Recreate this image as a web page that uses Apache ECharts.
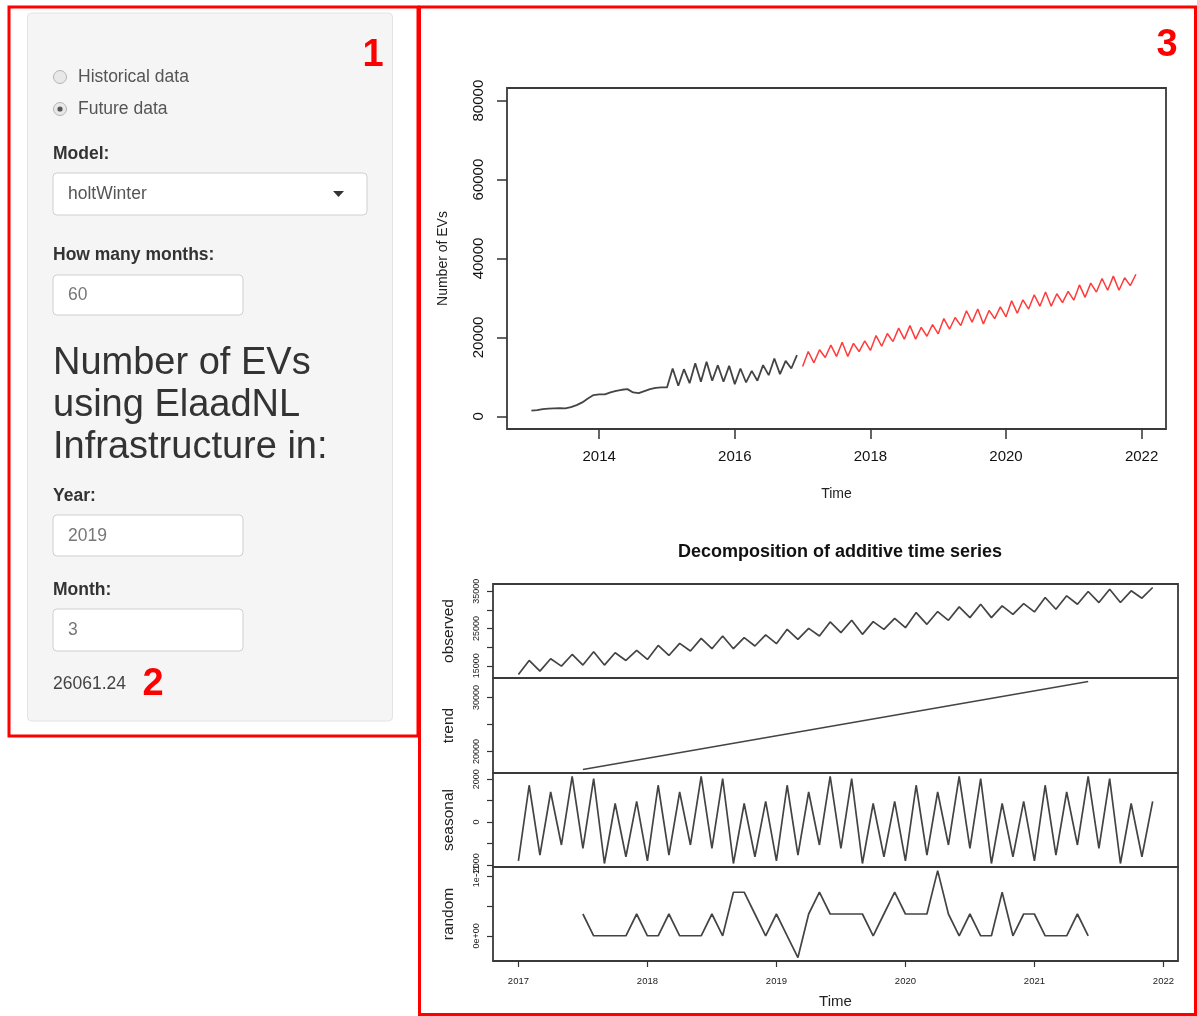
<!DOCTYPE html>
<html><head><meta charset="utf-8">
<script src="https://cdn.jsdelivr.net/npm/echarts@6/dist/echarts.min.js"></script>
<style>html,body{margin:0;padding:0;background:#fff}#c{width:1197px;height:1016px}</style>
</head><body><div id="c"></div>
<script>
const FONT = '"Liberation Sans", Arial, Helvetica, sans-serif';

// ---------- data ----------
const histStart = 2013;
const histValues = [1430,1600,1850,1940,2020,2100,2020,2360,2860,3540,4550,5390,
  5560,5560,6060,6480,6740,6900,6060,5900,6400,6900,7240,7330,
  7330,12130,7750,11960,8420,13470,8760,13810,9010,12970,8760,12800,
  8170,12130,8590,11540,9010,12970,10440,14650,10700,14060,12130,15500];

const forecastStart = 2017;
const forecastValues = [12660,16430,13570,16880,14920,18040,15190,18770,15190,18500,16430,19120,
  16700,20470,17770,21010,18950,22350,19580,23000,19580,22540,20300,23270,
  20920,24770,22080,25040,23000,26760,23880,27200,23430,26840,24780,27740,
  25230,29270,26120,29540,27200,30800,27920,31500,27920,31070,28810,31690,
  29450,33310,30160,33760,31500,34920,31960,35540,31960,35110,33120,36000];

const trendTimes = [2017.5, 2021.417];
const trendValues = [16690, 32940];

const seasonalValues = [-1811,1717,-1543,1402,-1071,2126,-1228,2031,-1937,866,-1622,961,
  -1811,1717,-1543,1402,-1071,2126,-1228,2031,-1937,866,-1622,961,
  -1811,1717,-1543,1402,-1071,2126,-1228,2031,-1937,866,-1622,961,
  -1811,1717,-1543,1402,-1071,2126,-1228,2031,-1937,866,-1622,961,
  -1811,1717,-1543,1402,-1071,2126,-1228,2031,-1937,866,-1622,961];

const randomStart = 2017.5;
const randomValues = [3.64e-12,0,0,0,0,3.64e-12,0,0,3.64e-12,0,0,0,
  3.64e-12,0,7.28e-12,7.28e-12,3.64e-12,0,3.64e-12,0,-3.64e-12,3.64e-12,7.28e-12,3.64e-12,
  3.64e-12,3.64e-12,3.64e-12,0,3.64e-12,7.28e-12,3.64e-12,3.64e-12,3.64e-12,1.09e-11,3.64e-12,0,
  3.64e-12,0,0,7.28e-12,0,3.64e-12,3.64e-12,0,0,0,3.64e-12,0];

const topXTicks = [2014, 2016, 2018, 2020, 2022];
const topYTicks = [0, 20000, 40000, 60000, 80000];
const decompXTicks = [2017, 2018, 2019, 2020, 2021, 2022];
const obsTicks = [15000, 20000, 25000, 30000, 35000];
const obsLabels = [15000, 25000, 35000];
const trendTicks = [20000, 25000, 30000];
const trendLabels = [20000, 30000];
const seasTicks = [-2000, -1000, 0, 1000, 2000];
const seasLabels = [-2000, 0, 2000];
const randTicks = [0, 5e-12, 1e-11];
const randLabels = [0, 1e-11];
const randLabelText = ['0e+00', '1e-11'];

// ---------- helpers ----------
const monthly = (start, vals) => vals.map((v, i) => [start + i / 12, v]);
const pairs = (xs, ys) => xs.map((x, i) => [x, ys[i]]);
const plain = v => String(Math.round(v));

const chart = echarts.init(document.getElementById('c'), null, {renderer: 'canvas'});

const gridStyle = {show: true, borderColor: '#3a3a3a', borderWidth: 1.8, backgroundColor: 'transparent'};
const dGrids = [
  {left: 493, top: 584, width: 685, height: 94},
  {left: 493, top: 678, width: 685, height: 95},
  {left: 493, top: 773, width: 685, height: 94},
  {left: 493, top: 867, width: 685, height: 94}
].map(g => Object.assign({}, gridStyle, g));

function decompX(idx, last) {
  return {
    gridIndex: idx, type: 'value', min: 2016.803, max: 2022.113,
    axisLine: {show: false, onZero: false}, splitLine: {show: false},
    axisTick: {show: last, length: 6, customValues: decompXTicks, lineStyle: {color: '#333', width: 1.2}},
    axisLabel: {show: last, customValues: decompXTicks, margin: 15, fontSize: 9.5, color: '#222', fontFamily: FONT,
      formatter: plain},
    name: last ? 'Time' : '', nameLocation: 'middle', nameGap: 33,
    nameTextStyle: {fontSize: 15, color: '#222', fontFamily: FONT}
  };
}
function decompY(idx, name, min, max, ticks, labels, fmt) {
  return {
    gridIndex: idx, type: 'value', min: min, max: max,
    axisLine: {show: false, onZero: false}, splitLine: {show: false},
    axisTick: {show: true, length: 6, customValues: ticks, lineStyle: {color: '#333', width: 1.2}},
    axisLabel: {customValues: labels, rotate: 90, margin: 12, fontSize: 9, color: '#222', fontFamily: FONT,
      formatter: fmt || plain},
    name: name, nameLocation: 'middle', nameRotate: 90, nameGap: 36,
    nameTextStyle: {fontSize: 15.5, color: '#222', fontFamily: FONT}
  };
}

const lineS = (xi, yi, data, color, w) => ({
  type: 'line', xAxisIndex: xi, yAxisIndex: yi, data: data, showSymbol: false, symbol: 'none',
  lineStyle: {color: color, width: w}, silent: true, animation: false
});

function txt(x, y, text, size, opts) {
  opts = opts || {};
  return {type: 'text', x: x, y: y, silent: true, z: 10,
    style: {text: text, fontSize: size, fontFamily: FONT, fontWeight: opts.bold ? 'bold' : 'normal',
      fill: opts.color || '#333', textAlign: opts.align || 'left', textVerticalAlign: 'middle'}};
}
function box(x, y, w, h) {
  return {type: 'rect', shape: {x: x, y: y, width: w, height: h, r: 4}, silent: true, z: 5,
    style: {fill: '#fff', stroke: '#cfcfcf', lineWidth: 1}};
}

const graphics = [
  {type: 'rect', shape: {x: 27.5, y: 13, width: 365, height: 708, r: 4}, silent: true, z: 1,
    style: {fill: '#f5f5f5', stroke: '#e3e3e3', lineWidth: 1}},
  {type: 'rect', shape: {x: 9, y: 7, width: 409, height: 729}, silent: true, z: 20,
    style: {fill: 'none', stroke: '#ff0000', lineWidth: 3}},
  {type: 'rect', shape: {x: 419.5, y: 7, width: 776, height: 1007.5}, silent: true, z: 20,
    style: {fill: 'none', stroke: '#ff0000', lineWidth: 3}},
  // radios
  {type: 'circle', shape: {cx: 60, cy: 77, r: 6.5}, silent: true, z: 6, style: {fill: '#e8e8e8', stroke: '#b5b5b5', lineWidth: 1}},
  {type: 'circle', shape: {cx: 60, cy: 109, r: 6.5}, silent: true, z: 6, style: {fill: '#e8e8e8', stroke: '#b5b5b5', lineWidth: 1}},
  {type: 'circle', shape: {cx: 60, cy: 109, r: 2.6}, silent: true, z: 7, style: {fill: '#555'}},
  txt(78, 77, 'Historical data', 17.5, {color: '#555'}),
  txt(78, 109, 'Future data', 17.5, {color: '#555'}),
  txt(53, 154, 'Model:', 17.5, {bold: true}),
  box(53, 173, 314, 42),
  txt(68, 194, 'holtWinter', 17.5, {color: '#555'}),
  {type: 'polygon', shape: {points: [[333, 191], [344, 191], [338.5, 197]]}, silent: true, z: 7, style: {fill: '#333'}},
  txt(53, 255, 'How many months:', 17.5, {bold: true}),
  box(53, 275, 190, 40),
  txt(68, 295, '60', 17.5, {color: '#777'}),
  txt(53, 364, 'Number of EVs', 38, {color: '#333'}),
  txt(53, 406, 'using ElaadNL', 38, {color: '#333'}),
  txt(53, 448, 'Infrastructure in:', 38, {color: '#333'}),
  txt(53, 496, 'Year:', 17.5, {bold: true}),
  box(53, 515, 190, 41),
  txt(68, 536, '2019', 17.5, {color: '#777'}),
  txt(53, 590, 'Month:', 17.5, {bold: true}),
  box(53, 609, 190, 42),
  txt(68, 630, '3', 17.5, {color: '#777'}),
  txt(53, 684, '26061.24', 17.5, {color: '#444'}),
  txt(373, 56, '1', 38, {bold: true, color: '#ff0000', align: 'center'}),
  txt(153, 685, '2', 38, {bold: true, color: '#ff0000', align: 'center'}),
  txt(1167, 46, '3', 38, {bold: true, color: '#ff0000', align: 'center'})
];

const option = {
  backgroundColor: '#fff',
  animation: false,
  textStyle: {fontFamily: FONT},
  title: {text: 'Decomposition of additive time series', left: 835, top: 538, textAlign: 'center',
    textStyle: {fontSize: 18, fontWeight: 'bold', color: '#111', fontFamily: FONT}},
  graphic: graphics,
  grid: [Object.assign({}, gridStyle, {left: 507, top: 88, width: 659, height: 341})].concat(dGrids),
  xAxis: [
    {gridIndex: 0, type: 'value', min: 2012.64, max: 2022.36,
      axisLine: {show: false, onZero: false}, splitLine: {show: false},
      axisTick: {show: true, length: 10, customValues: topXTicks, lineStyle: {color: '#333', width: 1.5}},
      axisLabel: {customValues: topXTicks, margin: 20, fontSize: 15, color: '#111', fontFamily: FONT, formatter: plain},
      name: 'Time', nameLocation: 'middle', nameGap: 58,
      nameTextStyle: {fontSize: 14, color: '#222', fontFamily: FONT}},
    decompX(1, false), decompX(2, false), decompX(3, false), decompX(4, true)
  ],
  yAxis: [
    {gridIndex: 0, type: 'value', min: -3200, max: 83200,
      axisLine: {show: false, onZero: false}, splitLine: {show: false},
      axisTick: {show: true, length: 10, customValues: topYTicks, lineStyle: {color: '#333', width: 1.5}},
      axisLabel: {customValues: topYTicks, rotate: 90, margin: 21, fontSize: 15, color: '#111', fontFamily: FONT, formatter: plain},
      name: 'Number of EVs', nameLocation: 'middle', nameRotate: 90, nameGap: 57,
      nameTextStyle: {fontSize: 14, color: '#222', fontFamily: FONT}},
    decompY(1, 'observed', 11726, 36934, obsTicks, obsLabels),
    decompY(2, 'trend', 16040, 33590, trendTicks, trendLabels),
    decompY(3, 'seasonal', -2100, 2289, seasTicks, seasLabels),
    decompY(4, 'random', -4.22e-12, 1.15e-11, randTicks, randLabels,
      v => randLabelText[randLabels.findIndex(t => Math.abs(t - v) < 1e-13)] || '')
  ],
  series: [
    lineS(0, 0, monthly(histStart, histValues), '#444', 1.8),
    lineS(0, 0, monthly(forecastStart, forecastValues), '#ff3b3b', 1.5),
    lineS(1, 1, monthly(forecastStart, forecastValues), '#444', 1.7),
    lineS(2, 2, pairs(trendTimes, trendValues), '#444', 1.5),
    lineS(3, 3, monthly(forecastStart, seasonalValues), '#444', 1.7),
    lineS(4, 4, monthly(randomStart, randomValues), '#444', 1.7)
  ]
};
chart.setOption(option);
</script></body></html>
